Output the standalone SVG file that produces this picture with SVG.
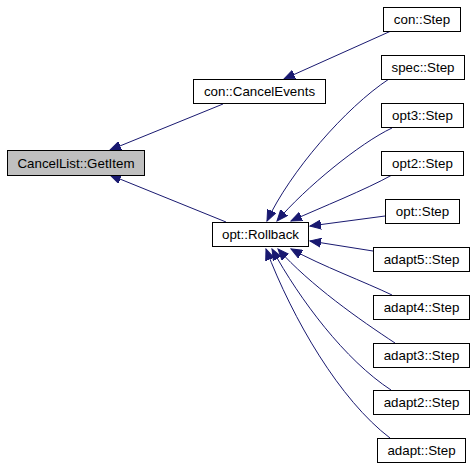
<svg xmlns="http://www.w3.org/2000/svg" width="475" height="467" viewBox="0 0 475 467">
<defs>
<style>
.n rect{fill:#ffffff;stroke:#000000;stroke-width:1}
.n.g rect{fill:#bfbfbf}
.n text{font-family:"Liberation Sans",Arial,sans-serif;font-size:13.33px;fill:#000000;text-anchor:middle}
.e path{fill:none;stroke:#191970;stroke-width:1;marker-end:url(#ah)}
</style>
<marker id="ah" markerUnits="userSpaceOnUse" markerWidth="12" markerHeight="10" viewBox="0 -5 12 10" refX="11" refY="0" orient="auto">
<path d="M0,-4.5 L11,0 L0,4.5 z" fill="#191970" stroke="#191970" stroke-width="1"/>
</marker>
</defs>
<rect width="475" height="467" fill="#ffffff"/>
<g id="edges" class="e">
<path d="M223,104 L110,150"/>
<path d="M226,222 L110,175"/>
<path d="M391,31 L284,79"/>
<path d="M389,79 C345,108 290,172 267,221"/>
<path d="M392,128 C360,143 305,188 277,221"/>
<path d="M392,175 C365,190 322,207 291,221"/>
<path d="M385,216 L310,226"/>
<path d="M373,251 L310,241"/>
<path d="M392,295 C365,282 322,266 291,249"/>
<path d="M395,343 C360,320 310,285 278,249"/>
<path d="M391,390 C345,360 300,300 272,249"/>
<path d="M390,438 C340,400 293,320 266,249"/>
</g>
<g id="n_getitem" class="n g"><rect x="7.5" y="150.5" width="137" height="25"/><text x="76" y="167.5">CancelList::GetItem</text></g>
<g id="n_cancelevents" class="n"><rect x="193.5" y="79.5" width="132" height="24"/><text x="259.5" y="96">con::CancelEvents</text></g>
<g id="n_constep" class="n"><rect x="383.5" y="7.5" width="77" height="24"/><text x="422" y="24">con::Step</text></g>
<g id="n_specstep" class="n"><rect x="381.5" y="55.5" width="83" height="24"/><text x="423" y="72">spec::Step</text></g>
<g id="n_opt3step" class="n"><rect x="381.5" y="103.5" width="82" height="24"/><text x="422.5" y="120">opt3::Step</text></g>
<g id="n_opt2step" class="n"><rect x="381.5" y="151.5" width="82" height="24"/><text x="422.5" y="168">opt2::Step</text></g>
<g id="n_optstep" class="n"><rect x="385.5" y="199.5" width="74" height="24"/><text x="422.5" y="216">opt::Step</text></g>
<g id="n_rollback" class="n"><rect x="212.5" y="222.5" width="96" height="24"/><text x="260.5" y="239">opt::Rollback</text></g>
<g id="n_adapt5" class="n"><rect x="373.5" y="247.5" width="96" height="24"/><text x="421.5" y="264">adapt5::Step</text></g>
<g id="n_adapt4" class="n"><rect x="373.5" y="295.5" width="96" height="24"/><text x="421.5" y="312">adapt4::Step</text></g>
<g id="n_adapt3" class="n"><rect x="373.5" y="343.5" width="96" height="24"/><text x="421.5" y="360">adapt3::Step</text></g>
<g id="n_adapt2" class="n"><rect x="373.5" y="390.5" width="96" height="24"/><text x="421.5" y="407">adapt2::Step</text></g>
<g id="n_adapt" class="n"><rect x="377.5" y="438.5" width="88" height="24"/><text x="421.5" y="455">adapt::Step</text></g>
</svg>
